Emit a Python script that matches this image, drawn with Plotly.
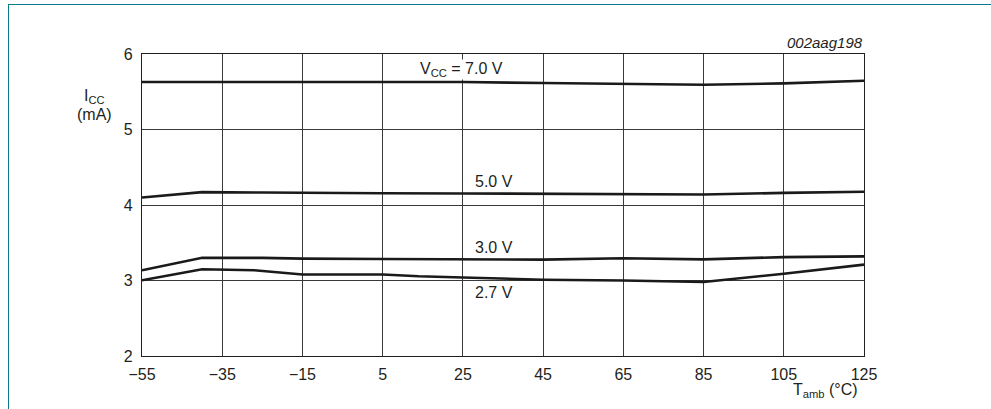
import plotly.graph_objects as go

# Data
temps = [-55, -40, -25, -15, 5, 25, 45, 65, 85, 105, 125]
icc_7v0 = [5.63, 5.63, 5.62, 5.63, 5.63, 5.63, 5.615, 5.606, 5.593, 5.611, 5.646]
icc_5v0 = [4.10, 4.17, 4.165, 4.16, 4.155, 4.153, 4.15, 4.145, 4.14, 4.16, 4.175]
icc_3v0 = [3.135, 3.30, 3.30, 3.29, 3.285, 3.28, 3.277, 3.295, 3.28, 3.31, 3.32]
temps_27 = [-55, -40, -27, -15, 5, 14, 25, 45, 65, 85, 105, 125]
icc_2v7 = [3.003, 3.15, 3.135, 3.08, 3.08, 3.056, 3.04, 3.01, 3.0, 2.98, 3.09, 3.21]

x_ticks = [-55, -35, -15, 5, 25, 45, 65, 85, 105, 125]
y_ticks = [2, 3, 4, 5, 6]

series = [
    (temps, icc_7v0, "7.0 V"),
    (temps, icc_5v0, "5.0 V"),
    (temps, icc_3v0, "3.0 V"),
    (temps_27, icc_2v7, "2.7 V"),
]

FONT = "Liberation Sans, Arial, sans-serif"
TXT = "#231f20"
FS = 16

fig = go.Figure()
for xs, ys, name in series:
    fig.add_trace(go.Scatter(x=xs, y=ys, mode="lines", name=name,
                             line=dict(color="#1a1a1a", width=2.6),
                             showlegend=False, hoverinfo="skip"))

W, H = 991, 409
ML, MR, MT, MB = 142, 127, 54, 53
PW, PH = W - ML - MR, H - MT - MB

def px(xp):
    return (xp - ML) / PW

def py(yp):
    return (H - MB - yp) / PH

axis_common = dict(showline=True, linecolor="#231f20", linewidth=1.2, mirror=True,
                   showgrid=True, gridcolor="#3a3a3a", gridwidth=1, zeroline=False,
                   ticks="", tickfont=dict(family=FONT, size=FS, color=TXT))

fig.update_xaxes(range=[-55, 125], tickmode="array", tickvals=x_ticks,
                 ticktext=[("\u2212" + str(-v)) if v < 0 else str(v) for v in x_ticks],
                 ticklabelstandoff=4, **axis_common)
fig.update_yaxes(range=[2, 6], tickmode="array", tickvals=y_ticks,
                 ticklabelstandoff=5, **axis_common)

ann = []
# Curve labels
ann.append(dict(x=14.0, y=5.79, xref="x", yref="y", text="V<sub>CC</sub> = 7.0 V",
                showarrow=False, xanchor="left", yanchor="middle", bgcolor="white",
                borderpad=0, font=dict(family=FONT, size=FS, color=TXT)))
for yv, t in [(4.316, "5.0 V"), (3.44, "3.0 V"), (2.843, "2.7 V")]:
    ann.append(dict(x=27.5, y=yv, xref="x", yref="y", text=t, showarrow=False,
                    xanchor="left", yanchor="middle",
                    font=dict(family=FONT, size=FS, color=TXT)))
# Axis titles
ann.append(dict(x=px(94), y=py(97), xref="paper", yref="paper", text="I<sub>CC</sub>",
                showarrow=False, xanchor="center", yanchor="middle",
                font=dict(family=FONT, size=FS, color=TXT)))
ann.append(dict(x=px(94), y=py(114), xref="paper", yref="paper", text="(mA)",
                showarrow=False, xanchor="center", yanchor="middle",
                font=dict(family=FONT, size=FS, color=TXT)))
ann.append(dict(x=px(860), y=py(390), xref="paper", yref="paper",
                text="T<sub>amb</sub> (°C)", showarrow=False, xanchor="right",
                yanchor="middle", font=dict(family=FONT, size=FS, color=TXT)))
ann.append(dict(x=px(865), y=py(43), xref="paper", yref="paper", text="<i>002aag198</i>",
                showarrow=False, xanchor="right", yanchor="middle",
                font=dict(family=FONT, size=15, color=TXT)))

fig.update_layout(width=W, height=H, margin=dict(l=ML, r=MR, t=MT, b=MB),
                  paper_bgcolor="white", plot_bgcolor="white",
                  annotations=ann,
                  font=dict(family=FONT, color=TXT))

# Teal page frame (top and left edges only)
frame_js = (
    "document.documentElement.style.margin='0';"
    "document.documentElement.style.overflow='hidden';"
    "document.body.style.margin='0';"
    "document.body.style.overflow='hidden';"
    "var f=document.createElement('div');"
    "f.style.cssText='position:fixed;left:8px;top:4px;width:2000px;height:2000px;"
    "border-top:1.5px solid #0b7a8a;border-left:1.5px solid #0b7a8a;pointer-events:none;';"
    "document.body.appendChild(f);"
)
fig.write_html("out.html", config={"displayModeBar": False}, post_script=frame_js)
